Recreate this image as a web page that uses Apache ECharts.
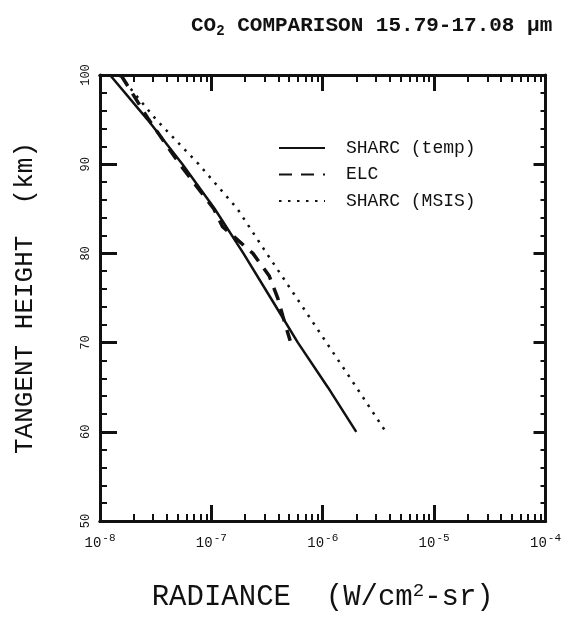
<!DOCTYPE html>
<html>
<head>
<meta charset="utf-8">
<script src="https://cdn.jsdelivr.net/npm/echarts@6/dist/echarts.min.js"></script>
<style>
  html, body { margin: 0; padding: 0; background: #fff; }
  #myChart { width: 564px; height: 617px; }
</style>
</head>
<body>
<div id="myChart"></div>
<script>
// tangent heights (km) and radiances (W/cm2-sr)
var sharcTempHeight = [100, 95, 90, 85, 80, 75, 70, 65, 60];
var sharcTempRad = [1.23e-8, 2.67e-8, 5.5e-8, 1.07e-7, 1.94e-7, 3.41e-7, 5.98e-7, 1.11e-6, 2.0e-6];

var elcHeight = [100, 95, 90, 85, 83, 80, 77.5, 75, 73, 70.2];
var elcRad = [1.54e-8, 2.74e-8, 5.2e-8, 1.05e-7, 1.26e-7, 2.36e-7, 3.3e-7, 3.94e-7, 4.37e-7, 5.1e-7];

var sharcMsisHeight = [100, 95, 90, 85, 80, 75, 70, 65, 60];
var sharcMsisRad = [1.49e-8, 3.19e-8, 7.69e-8, 1.71e-7, 3.14e-7, 5.83e-7, 1.08e-6, 2.0e-6, 3.68e-6];

var xDecades = [-8, -7, -6, -5, -4];
var minorMantissas = [2, 3, 4, 5, 6, 7, 8, 9];
var yTicks = [50, 60, 70, 80, 90, 100];

function pairs(xs, ys) {
  var out = [];
  for (var i = 0; i < xs.length; i++) out.push([xs[i], ys[i]]);
  return out;
}

var minorX = [];
for (var d = 0; d < xDecades.length - 1; d++) {
  for (var m = 0; m < minorMantissas.length; m++) {
    minorX.push(Number((minorMantissas[m] + 'e' + xDecades[d])));
  }
}

var monoFont = '"Liberation Mono", "DejaVu Sans Mono", monospace';
var black = '#111';

var myChart = echarts.init(document.getElementById('myChart'));

var xBase = {
  type: 'log',
  min: 1e-8,
  max: 1e-4,
  logBase: 10,
  splitLine: { show: false },
  axisLine: { show: true, onZero: false, lineStyle: { color: black, width: 3 } }
};

myChart.setOption({
  animation: false,
  backgroundColor: '#fff',
  title: {
    text: 'CO{sub|2} COMPARISON 15.79-17.08 μm',
    left: 186,
    top: 9,
    textStyle: {
      fontFamily: monoFont,
      fontWeight: 'bold',
      fontSize: 21,
      color: black,
      rich: {
        sub: { fontFamily: monoFont, fontWeight: 'bold', fontSize: 14, color: black, padding: [10, 0, 0, 0] }
      }
    }
  },
  legend: {
    orient: 'vertical',
    left: 278,
    top: 139,
    padding: 0,
    itemWidth: 46,
    itemHeight: 14,
    itemGap: 8.5,
    itemStyle: { opacity: 0 },
    textStyle: { fontFamily: monoFont, fontSize: 18, color: black, padding: [0, 0, 0, 16] },
    data: ['SHARC (temp)', 'ELC', 'SHARC (MSIS)']
  },
  grid: { left: 100, right: 17, top: 75, bottom: 94 },
  xAxis: [
    Object.assign({}, xBase, {
      position: 'bottom',
      name: 'RADIANCE  (W/cm{sup|2}-sr)',
      nameLocation: 'middle',
      nameGap: 60,
      nameTextStyle: {
        fontFamily: monoFont, fontSize: 29, color: black,
        rich: { sup: { fontFamily: monoFont, fontSize: 19, color: black, padding: [0, 0, 14, 0] } }
      },
      axisTick: { inside: true, length: 16, lineStyle: { color: black, width: 3 } },
      axisLabel: {
        margin: 12,
        formatter: function (v) {
          var e = Math.round(Math.log10(v));
          return '{b|10}{s|-' + Math.abs(e) + '}';
        },
        rich: {
          b: { fontFamily: monoFont, fontSize: 14, color: black },
          s: { fontFamily: monoFont, fontSize: 11, color: black, padding: [0, 0, 9, 1] }
        }
      }
    }),
    Object.assign({}, xBase, {
      position: 'bottom',
      axisTick: { inside: true, length: 7, customValues: minorX, lineStyle: { color: black, width: 2 } },
      axisLabel: { show: false }
    }),
    Object.assign({}, xBase, {
      position: 'top',
      axisTick: { inside: true, length: 16, lineStyle: { color: black, width: 3 } },
      axisLabel: { show: false }
    }),
    Object.assign({}, xBase, {
      position: 'top',
      axisTick: { inside: true, length: 7, customValues: minorX, lineStyle: { color: black, width: 2 } },
      axisLabel: { show: false }
    })
  ],
  yAxis: [
    {
      type: 'value',
      position: 'left',
      min: 50,
      max: 100,
      interval: 10,
      name: 'TANGENT HEIGHT  (km)',
      nameLocation: 'middle',
      nameGap: 62,
      nameRotate: 90,
      nameTextStyle: { fontFamily: monoFont, fontSize: 26, color: black },
      splitLine: { show: false },
      axisLine: { show: true, lineStyle: { color: black, width: 3 } },
      axisTick: { inside: true, length: 17, lineStyle: { color: black, width: 3 } },
      minorTick: { show: true, splitNumber: 5, length: 7, lineStyle: { color: black, width: 2 } },
      axisLabel: { rotate: 90, margin: 8, fontFamily: monoFont, fontSize: 12, color: black }
    },
    {
      type: 'value',
      position: 'right',
      min: 50,
      max: 100,
      interval: 10,
      splitLine: { show: false },
      axisLine: { show: true, lineStyle: { color: black, width: 3 } },
      axisTick: { inside: true, length: 12, lineStyle: { color: black, width: 3 } },
      minorTick: { show: true, splitNumber: 5, length: 5, lineStyle: { color: black, width: 2 } },
      axisLabel: { show: false }
    }
  ],
  series: [
    {
      name: 'SHARC (temp)',
      type: 'line',
      symbol: 'none',
      lineStyle: { color: black, width: 2.5 },
      itemStyle: { color: black },
      data: pairs(sharcTempRad, sharcTempHeight)
    },
    {
      name: 'ELC',
      type: 'line',
      symbol: 'none',
      lineStyle: { color: black, width: 3.5, type: [13, 9] },
      itemStyle: { color: black },
      data: pairs(elcRad, elcHeight)
    },
    {
      name: 'SHARC (MSIS)',
      type: 'line',
      symbol: 'none',
      lineStyle: { color: black, width: 2.5, type: [2.5, 6.5] },
      itemStyle: { color: black },
      data: pairs(sharcMsisRad, sharcMsisHeight)
    }
  ]
});
</script>
</body>
</html>
